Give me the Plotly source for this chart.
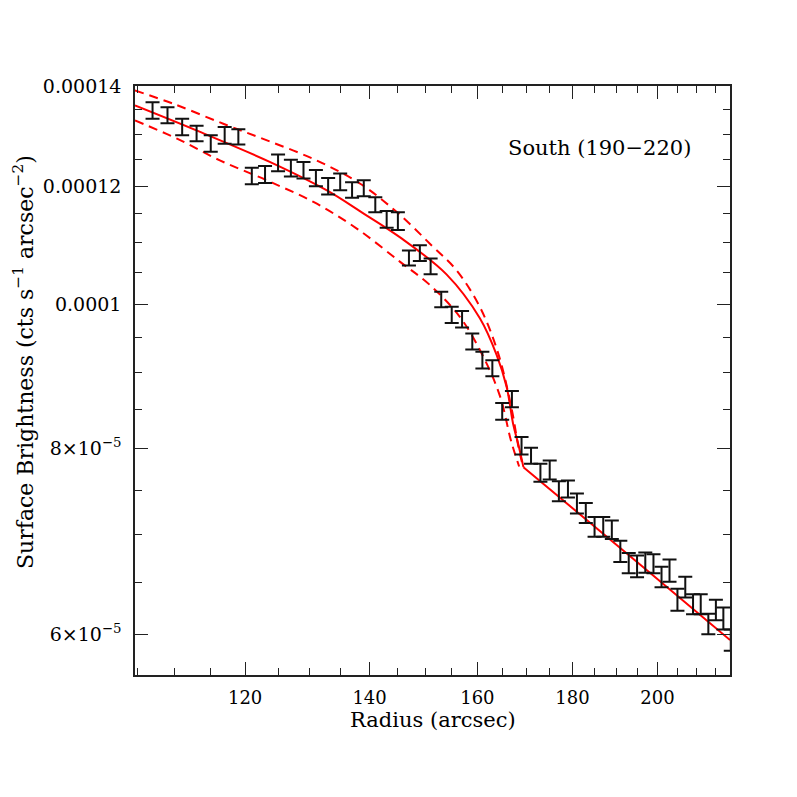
import plotly.graph_objects as go

# surface brightness profile, south sector (190-220 deg)
radius = [107, 109, 111, 113, 115, 117, 119, 121, 123, 125, 127, 129, 131, 133, 135,
          137, 139, 141, 143, 145, 147, 149, 151, 153, 155, 157, 159, 161, 163, 165,
          167, 169, 171, 173, 175, 177, 179, 181, 183, 185, 187, 189, 191, 193, 195,
          197, 199, 201, 203, 205, 207, 209, 211, 213, 215, 217, 219]
sb = [1.349e-4, 1.339e-4, 1.315e-4, 1.302e-4, 1.282e-4, 1.298e-4, 1.295e-4, 1.219e-4,
      1.222e-4, 1.244e-4, 1.234e-4, 1.230e-4, 1.215e-4, 1.200e-4, 1.208e-4, 1.193e-4,
      1.196e-4, 1.166e-4, 1.140e-4, 1.137e-4, 1.074e-4, 1.082e-4, 1.060e-4, 1.007e-4,
      9.834e-5, 9.768e-5, 9.437e-5, 9.169e-5, 9.055e-5, 8.471e-5, 8.633e-5, 8.033e-5,
      7.909e-5, 7.705e-5, 7.736e-5, 7.486e-5, 7.512e-5, 7.346e-5, 7.240e-5, 7.085e-5,
      7.085e-5, 7.054e-5, 6.822e-5, 6.699e-5, 6.666e-5, 6.704e-5, 6.692e-5, 6.556e-5,
      6.622e-5, 6.331e-5, 6.455e-5, 6.286e-5, 6.286e-5, 6.098e-5, 6.231e-5, 6.150e-5,
      5.947e-5]
sb_err = [1.73e-6, 1.66e-6, 1.69e-6, 1.57e-6, 1.64e-6, 1.67e-6, 1.54e-6, 1.56e-6,
          1.61e-6, 1.60e-6, 1.62e-6, 1.58e-6, 1.54e-6, 1.54e-6, 1.55e-6, 1.44e-6,
          1.48e-6, 1.35e-6, 1.46e-6, 1.55e-6, 1.25e-6, 1.30e-6, 1.28e-6, 1.21e-6,
          1.22e-6, 1.25e-6, 1.17e-6, 1.18e-6, 1.12e-6, 1.09e-6, 1.07e-6, 1.08e-6,
          0.98e-6, 1.07e-6, 1.14e-6, 1.16e-6, 0.99e-6, 1.14e-6, 1.12e-6, 1.09e-6,
          1.09e-6, 1.00e-6, 1.11e-6, 1.04e-6, 1.13e-6, 1.04e-6, 0.98e-6, 1.04e-6,
          1.15e-6, 1.08e-6, 1.03e-6, 0.97e-6, 0.97e-6, 0.97e-6, 0.99e-6, 1.05e-6,
          0.98e-6]

# best-fit model, inside and outside the jump
fit_in_r = [104.7, 113.5, 123.8, 132.8, 138.4, 145.4, 154.0, 160.5, 163.9, 165.9,
            167.3, 168.3, 169.4]
fit_in = [1.3595e-4, 1.3049e-4, 1.2454e-4, 1.1920e-4, 1.1540e-4, 1.1085e-4, 1.0469e-4,
          9.782e-5, 9.237e-5, 8.798e-5, 8.292e-5, 8.056e-5, 7.770e-5]
fit_out_r = [169.4, 174.4, 181.7, 198.2, 218.8]
fit_out = [7.770e-5, 7.539e-5, 7.227e-5, 6.596e-5, 5.947e-5]

# 1-sigma envelope on the inner model
upper_r = [104.7, 109.8, 116.8, 123.3, 131.1, 138.4, 144.8, 151.5, 155.9, 160.5,
           164.2, 167.0, 168.3, 169.3]
upper = [1.3913e-4, 1.3630e-4, 1.3216e-4, 1.2880e-4, 1.2488e-4, 1.2044e-4, 1.1528e-4,
         1.0921e-4, 1.0538e-4, 9.955e-5, 9.262e-5, 8.485e-5, 8.035e-5, 7.778e-5]
lower_r = [104.7, 110.3, 116.3, 123.3, 130.6, 137.8, 145.4, 150.9, 156.6, 161.2,
           164.6, 166.8, 168.5]
lower = [1.3283e-4, 1.2914e-4, 1.2488e-4, 1.2106e-4, 1.1710e-4, 1.1238e-4, 1.0674e-4,
         1.0296e-4, 9.800e-5, 9.215e-5, 8.662e-5, 8.097e-5, 7.778e-5]

x_major = [120, 140, 160, 180, 200]
x_minor = [105, 110, 115, 125, 130, 135, 145, 150, 155, 165, 170, 175, 185, 190, 195,
           205, 210, 215]
y_major = [6e-5, 8e-5, 1e-4, 1.2e-4, 1.4e-4]
y_labels = ["6×10<sup>−5</sup>", "8×10<sup>−5</sup>", "0.0001", "0.00012", "0.00014"]
y_minor = [6.5e-5, 7e-5, 7.5e-5, 8.5e-5, 9e-5, 9.5e-5, 1.05e-4, 1.1e-4, 1.15e-4,
           1.25e-4, 1.3e-4, 1.35e-4]

FONT = "DejaVu Serif"
RED = "#ff0000"

fig = go.Figure()

fig.add_trace(go.Scatter(x=upper_r, y=upper, mode="lines", line_shape="spline",
                         line=dict(color=RED, width=2, dash="9px,6px")))
fig.add_trace(go.Scatter(x=lower_r, y=lower, mode="lines", line_shape="spline",
                         line=dict(color=RED, width=2, dash="9px,6px")))
fig.add_trace(go.Scatter(x=fit_in_r, y=fit_in, mode="lines", line_shape="spline",
                         line=dict(color=RED, width=2)))
fig.add_trace(go.Scatter(x=fit_out_r, y=fit_out, mode="lines",
                         line=dict(color=RED, width=2)))

fig.add_trace(go.Scatter(x=radius, y=sb, mode="markers",
                         marker=dict(size=2, color="rgba(0,0,0,0)"),
                         error_y=dict(type="data", array=sb_err, visible=True,
                                      color="#111111", thickness=2, width=7)))

axis_common = dict(showgrid=False, zeroline=False, showline=True, linecolor="#222222",
                   linewidth=1.5, mirror="allticks", ticks="inside", ticklen=13,
                   tickwidth=1.3, tickcolor="#222222")

fig.update_xaxes(type="log", range=[2.01995, 2.34003], tickmode="array",
                 tickvals=x_major, ticktext=[str(v) for v in x_major],
                 tickfont=dict(family=FONT, size=18, color="black"),
                 minor=dict(tickvals=x_minor, ticks="inside", ticklen=7,
                            tickwidth=1.2, tickcolor="#222222"),
                 ticklabelstandoff=6, **axis_common)
fig.update_yaxes(type="log", range=[-4.24918, -3.85356], tickmode="array",
                 tickvals=y_major, ticktext=y_labels,
                 tickfont=dict(family=FONT, size=19, color="black"),
                 minor=dict(tickvals=y_minor, ticks="inside", ticklen=7,
                            tickwidth=1.2, tickcolor="#222222"),
                 ticklabelstandoff=8, **axis_common)

# the page body adds an 8 px offset, so margins are trimmed by 8 on left/top
fig.update_layout(
    width=797, height=797,
    margin=dict(l=127, r=75, t=78, b=130),
    paper_bgcolor="white", plot_bgcolor="white",
    showlegend=False,
    font=dict(family=FONT, color="black"),
    annotations=[
        dict(text="South (190−220)", xref="paper", yref="paper", x=0.7815, y=0.8947,
             xanchor="center", yanchor="middle", showarrow=False,
             font=dict(family=FONT, size=21, color="black")),
        dict(text="Radius (arcsec)", xref="paper", yref="paper", x=0.5, y=-0.0764,
             xanchor="center", yanchor="middle", showarrow=False,
             font=dict(family=FONT, size=21, color="black")),
        dict(text="Surface Brightness (cts s<sup>−1</sup> arcsec<sup>−2</sup>)",
             xref="paper", yref="paper", x=-0.187, y=0.531, textangle=-90,
             xanchor="center", yanchor="middle", showarrow=False,
             font=dict(family=FONT, size=22, color="black")),
    ],
)

fig.write_html("out.html")
